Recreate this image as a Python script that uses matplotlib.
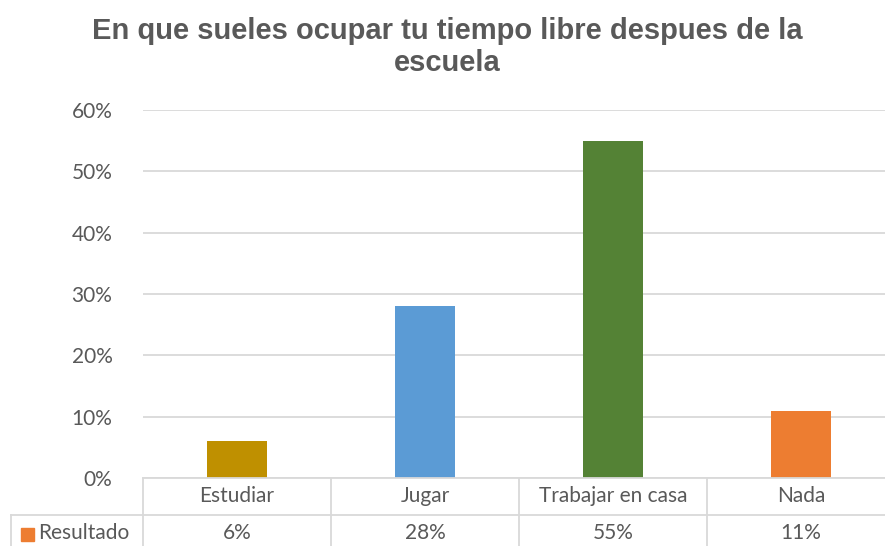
import matplotlib.pyplot as plt
from matplotlib.patches import Rectangle
from matplotlib.ticker import PercentFormatter

# data
categories = ['Estudiar', 'Jugar', 'Trabajar en casa', 'Nada']
values = [0.06, 0.28, 0.55, 0.11]
value_labels = ['6%', '28%', '55%', '11%']
colors = ['#BF9000', '#5B9BD5', '#548235', '#ED7D31']
series_name = 'Resultado'

text_col = '#595959'
grid_col = '#D9D9D9'
plt.rcParams['font.family'] = ['Lato', 'DejaVu Sans']
fs = 15

fig = plt.figure(figsize=(8.85, 5.46), dpi=100)
W, H = 885, 546
x_left, x_right = 143, 895
left, right, bottom, top = x_left / W, x_right / W, 1 - 478 / H, 1 - 110 / H
ax = fig.add_axes([left, bottom, right - left, top - bottom])

x = range(len(categories))
ax.bar(x, values, width=0.32, color=colors, zorder=3)
ax.set_xlim(-0.5, len(categories) - 0.5)
ax.set_ylim(0, 0.6)
ax.set_yticks([0, 0.1, 0.2, 0.3, 0.4, 0.5, 0.6])
ax.yaxis.set_major_formatter(PercentFormatter(1.0, decimals=0))
ax.tick_params(axis='y', length=0, labelsize=fs, labelcolor=text_col, pad=22)
ax.set_xticks([])
ax.grid(axis='y', color=grid_col, linewidth=1.3, zorder=0)
for s in ax.spines.values():
    s.set_visible(False)

# data table under the plot, drawn in figure pixels
def px(xp, yp):
    return xp / W, 1 - yp / H

def hline(y, x0, x1):
    fig.add_artist(plt.Line2D([x0 / W, x1 / W], [1 - y / H, 1 - y / H],
                              color=grid_col, linewidth=1.3))

def vline(xp, y0, y1):
    fig.add_artist(plt.Line2D([xp / W, xp / W], [1 - y0 / H, 1 - y1 / H],
                              color=grid_col, linewidth=1.3))

row1_top, row2_top, row2_bot = 478, 515, 548
hline(row1_top, x_left, x_right)
hline(row2_top, 11, x_right)
vline(11, row2_top, row2_bot)
cat_w = (x_right - x_left) / len(categories)
for i in range(len(categories) + 1):
    vline(x_left + i * cat_w, row1_top, row2_bot)

for i, (cat, lab) in enumerate(zip(categories, value_labels)):
    cx = x_left + (i + 0.5) * cat_w
    fig.text(*px(cx, (row1_top + row2_top) / 2), cat, ha='center', va='center',
             fontsize=fs, color=text_col)
    fig.text(*px(cx, 533), lab, ha='center', va='center',
             fontsize=fs, color=text_col)

fig.add_artist(Rectangle(px(21, 541), 13 / W, 13 / H, color=colors[3],
                         transform=fig.transFigure))
fig.text(*px(38, 533), series_name, ha='left', va='center', fontsize=fs,
         color=text_col)

fig.text(0.505, 1 - 47 / H, 'En que sueles ocupar tu tiempo libre despues de la\nescuela',
         ha='center', va='center', fontsize=21, fontweight='bold', color=text_col,
         family=['Liberation Sans', 'DejaVu Sans'], linespacing=1.2)

fig.savefig('out.png', dpi=100)
